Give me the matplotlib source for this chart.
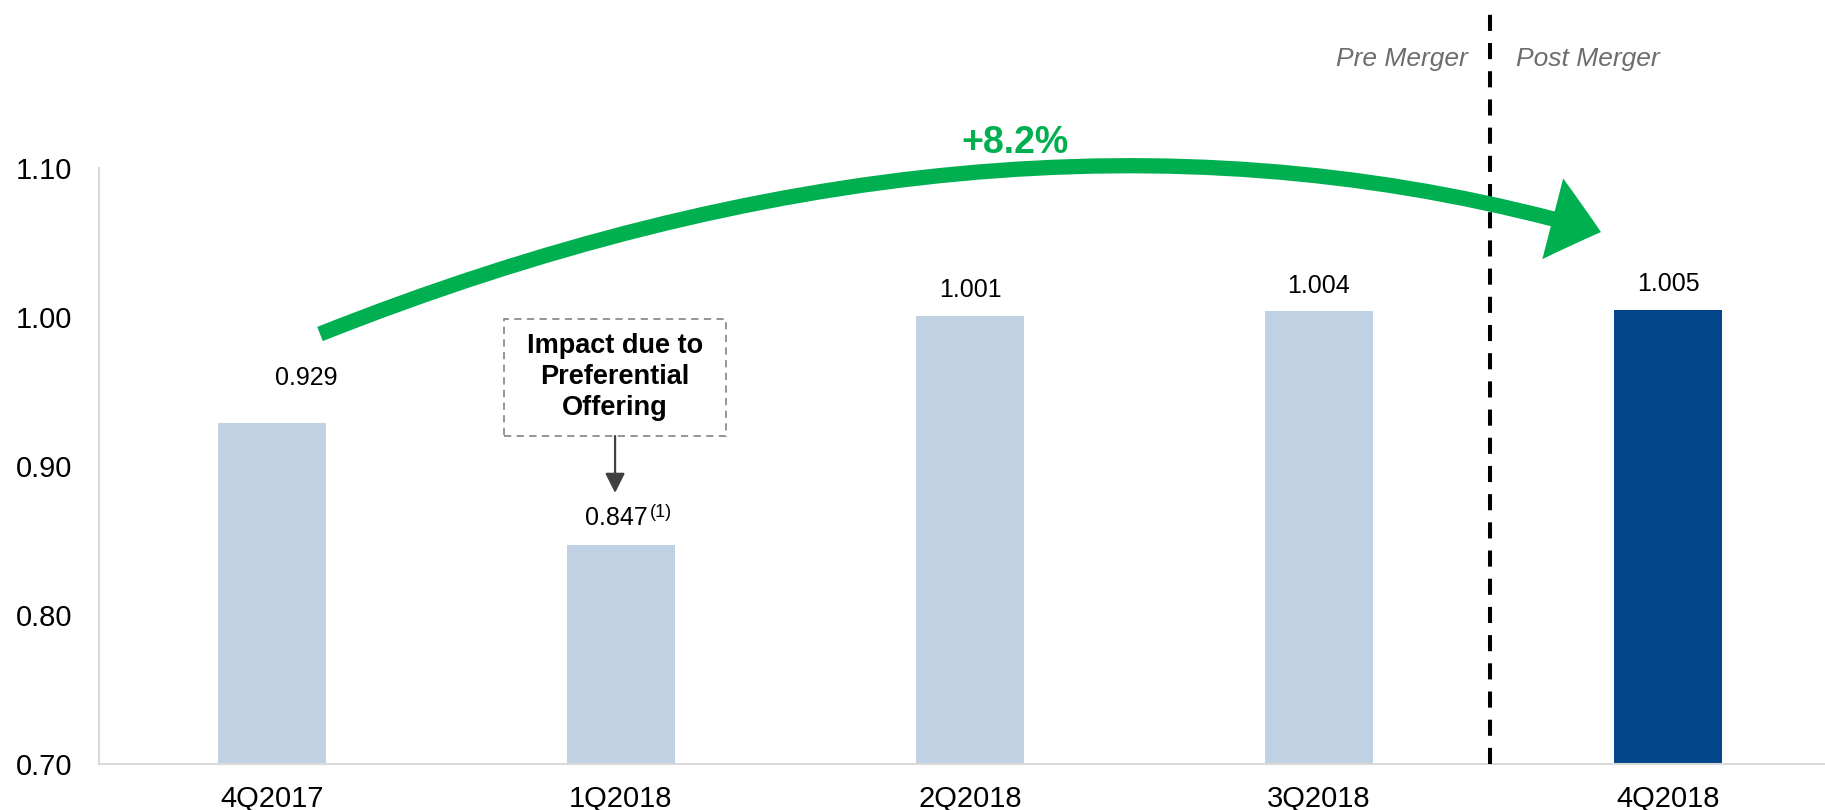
import numpy as np
import matplotlib.pyplot as plt
from matplotlib.patches import FancyArrowPatch, Rectangle, ArrowStyle
from matplotlib.path import Path
from matplotlib.ticker import FormatStrFormatter

plt.rcParams['font.family'] = ['Liberation Sans', 'DejaVu Sans']

# Data
quarters = ["4Q2017", "1Q2018", "2Q2018", "3Q2018", "4Q2018"]
values = [0.929, 0.847, 1.001, 1.004, 1.005]
value_labels = ["0.929", "0.847", "1.001", "1.004", "1.005"]
label_gap = [0.030, 0.018, 0.017, 0.017, 0.017]
label_shift = [0.097, -0.014, 0.0, 0.0, 0.0]
growth_label = "+8.2%"
note_text = "Impact due to\nPreferential\nOffering"

light = "#c0d1e3"
dark = "#03478a"
green = "#00b050"
bar_colors = [light, light, light, light, dark]

fig = plt.figure(figsize=(18.25, 8.1), dpi=100)
ax = fig.add_axes([0.0542, 0.0568, 0.9458, 0.7358])

x = np.arange(len(quarters))
ax.bar(x, values, width=0.31, color=bar_colors, zorder=2)

ax.set_ylim(0.70, 1.10)
ax.set_xlim(-0.496, 4.45)
ax.set_yticks(np.arange(0.70, 1.101, 0.10))
ax.yaxis.set_major_formatter(FormatStrFormatter('%.2f'))
ax.set_xticks(x)
ax.set_xticklabels(quarters)
ax.tick_params(length=0, labelsize=21)
ax.tick_params(axis='x', pad=15)
ax.tick_params(axis='y', pad=19)
for s in ['top', 'right']:
    ax.spines[s].set_visible(False)
for s in ['left', 'bottom']:
    ax.spines[s].set_color('#d9d9d9')
    ax.spines[s].set_linewidth(1.5)

# value labels
for i, v in enumerate(values):
    t = ax.text(x[i] + label_shift[i], v + label_gap[i], value_labels[i],
                ha='center', va='center', fontsize=18)
    if i == 1:
        ax.annotate("(1)", xy=(1.0, 0.75), xycoords=t, xytext=(2, 0), textcoords='offset points',
                    ha='left', va='center', fontsize=13)

# pre / post merger divider
ax.plot([3.49, 3.49], [0.70, 1.205], color='black', lw=2.9, dashes=(4, 3), clip_on=False, zorder=3)
ax.text(3.427, 1.173, "Pre Merger", ha='right', va='center', fontsize=19, style='italic', color='#6d6d6d')
ax.text(3.564, 1.173, "Post Merger", ha='left', va='center', fontsize=19, style='italic', color='#6d6d6d')

# growth arrow
arc = Path([(0.1375, 0.9886), (2.112, 1.1725), (3.808, 1.057)],
           [Path.MOVETO, Path.CURVE3, Path.CURVE3])
green_arrow = FancyArrowPatch(path=arc,
                              arrowstyle=ArrowStyle.Simple(head_length=3.6, head_width=6.0, tail_width=1.1),
                              mutation_scale=10, color=green, lw=0, clip_on=False, zorder=4)
ax.add_patch(green_arrow)
ax.text(2.129, 1.1168, growth_label, ha='center', va='center', fontsize=27, weight='bold',
        color=green, clip_on=False)

# note box
box = Rectangle((0.665, 0.9201), 0.636, 0.0786, fill=False, edgecolor='#8c8c8c', lw=1.3,
                linestyle=(0, (4, 3)), clip_on=False, zorder=3)
ax.add_patch(box)
ax.text(0.983, 0.9597, note_text, ha='center', va='center', fontsize=19.5, weight='bold',
        linespacing=1.23, multialignment='center')
ax.annotate("", xy=(0.983, 0.8819), xytext=(0.983, 0.9201),
            arrowprops=dict(arrowstyle='-|>,head_length=0.6,head_width=0.3', color='#404040',
                            lw=1.6, shrinkA=0, shrinkB=0, mutation_scale=20))

fig.savefig("out.png", dpi=100)
